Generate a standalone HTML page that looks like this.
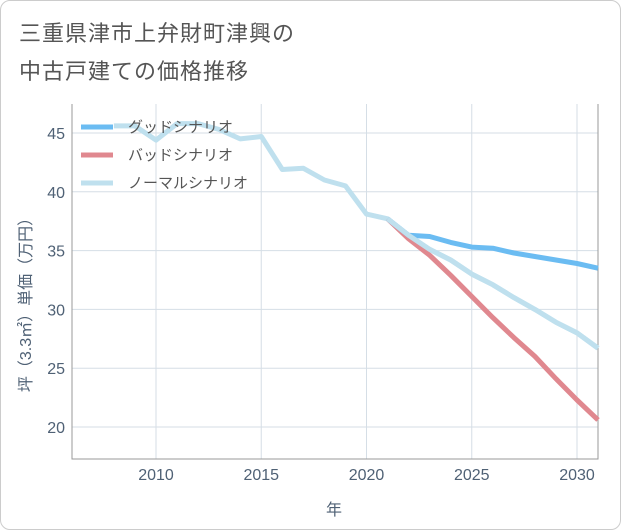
<!DOCTYPE html>
<html><head><meta charset="utf-8"><style>
body{margin:0;background:#fff;font-family:"Liberation Sans","Noto Sans CJK JP",sans-serif}
#wrap{position:relative;width:619px;height:528px;border:1px solid #ccc;border-radius:10px;overflow:hidden}
#title{position:absolute;left:18px;top:14px;font-size:22px;line-height:38px;color:#555;letter-spacing:1px}
svg{position:absolute;left:0;top:0}
</style></head><body>
<div id="wrap">
<div id="title">三重県津市上弁財町津興の<br>中古戸建ての価格推移</div>
<svg id="chart" width="621" height="530"></svg>
</div>
<script>
const years=[2008,2009,2010,2011,2012,2013,2014,2015,2016,2017,2018,2019,2020,2021,2022,2023,2024,2025,2026,2027,2028,2029,2030,2031];
const normal=[45.6,45.6,44.4,45.8,45.8,45.3,44.5,44.7,41.9,42.0,41.0,40.5,38.1,37.7,36.3,35.1,34.2,33.0,32.1,31.0,30.0,28.9,28.0,26.7];
const goodYears=[2021,2022,2023,2024,2025,2026,2027,2028,2029,2030,2031];
const good=[37.7,36.3,36.2,35.7,35.3,35.2,34.8,34.5,34.2,33.9,33.5];
const badYears=[2021,2022,2023,2024,2025,2026,2027,2028,2029,2030,2031];
const bad=[37.7,36.0,34.6,32.9,31.1,29.3,27.6,26.0,24.1,22.3,20.6];
const xTicks=[2010,2015,2020,2025,2030];
const yTicks=[20,25,30,35,40,45];
const NS="http://www.w3.org/2000/svg",svg=document.getElementById('chart');
const L=71,R=597,T=103,B=458;
const xs=y=>155+(y-2010)*21.05;
const ys=v=>426-(v-20)*11.76;
const TC='#4f6175';
function mk(t,a){const e=document.createElementNS(NS,t);for(const k in a)e.setAttribute(k,a[k]);svg.appendChild(e);return e;}
for(const t of xTicks){const g=mk('line',{x1:xs(t),x2:xs(t),y1:T,y2:B,stroke:'#d5dee6','stroke-width':1});


const l=mk('text',{x:xs(t),y:479,'text-anchor':'middle','font-size':16,fill:TC});l.textContent=t;

}
for(const t of yTicks){const g=mk('line',{x1:L,x2:R,y1:ys(t),y2:ys(t),stroke:'#d5dee6','stroke-width':1});


const l=mk('text',{x:64,y:ys(t)+6,'text-anchor':'end','font-size':16,fill:TC});l.textContent=t;

}
const ax=mk('path',{d:`M${L} ${T}V${B}H${R}V${T}`,fill:'none',stroke:'#999','stroke-width':1});


function series(xv,yv,c,name){const d=xv.map((x,i)=>(i?'L':'M')+xs(x).toFixed(1)+' '+ys(yv[i]).toFixed(1)).join('');
const p=mk('path',{d,fill:'none',stroke:c,'stroke-width':5,'stroke-linejoin':'round'});

}
series(years,normal,'#bfe0ee','normal-scenario-line');
series(badYears,bad,'#e0888f','bad-scenario-line');
series(goodYears,good,'#6bbcf2','good-scenario-line');
series(years.slice(13),normal.slice(13),'#bfe0ee','normal-scenario-line-front');
const leg=[['グッドシナリオ','#6bbcf2'],['バッドシナリオ','#e0888f'],['ノーマルシナリオ','#bfe0ee']];
leg.forEach((e,i)=>{const y=126+i*28;
const r=mk('rect',{x:80,y:y-2.5,width:32,height:5,fill:e[1]});


const t=mk('text',{x:127,y:y+5,'font-size':15,fill:'#555'});t.textContent=e[0];

});
const xt=mk('text',{x:333,y:514,'text-anchor':'middle','font-size':16,fill:TC});xt.textContent='年';


const yt=mk('text',{x:0,y:0,'text-anchor':'middle','font-size':16,fill:TC,transform:'translate(30 300) rotate(-90)'});yt.textContent='坪（3.3㎡）単価（万円）';


</script>
</body></html>
